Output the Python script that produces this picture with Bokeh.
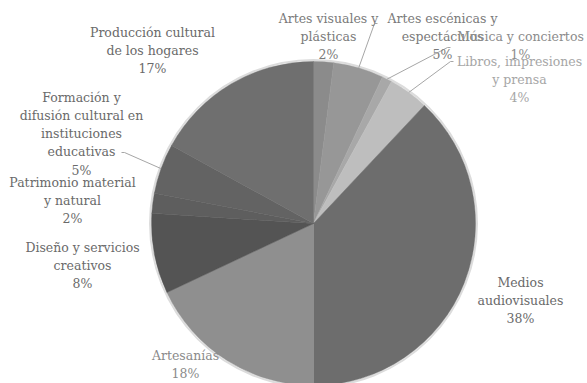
import math
from bokeh.plotting import figure
from bokeh.models import ColumnDataSource, Range1d
from bokeh.core.properties import value
from bokeh.embed import file_html
from bokeh.resources import INLINE

# ---- data ----
categories = [
    "Artes visuales y\nplásticas",
    "Artes escénicas y\nespectáculos",
    "Música y conciertos",
    "Libros, impresiones\ny prensa",
    "Medios\naudiovisuales",
    "Artesanías",
    "Diseño y servicios\ncreativos",
    "Patrimonio material\ny natural",
    "Formación y\ndifusión cultural en\ninstituciones\neducativas",
    "Producción cultural\nde los hogares",
]
shares = [2, 5, 1, 4, 38, 18, 8, 2, 5, 17]

# ---- styling / layout ----
colors = ["#8b8b8b", "#979797", "#a8a8a8", "#bebebe", "#6d6d6d",
          "#8f8f8f", "#545454", "#5e5e5e", "#636363", "#6f6f6f"]
label_colors = ["#7a7a7a", "#7a7a7a", "#8c8c8c", "#a6a6a6", "#6a6a6a",
                "#8a8a8a", "#6a6a6a", "#6a6a6a", "#6a6a6a", "#6a6a6a"]
# label centre x and first-line top y (pixels from top)
label_pos = [(328, 10), (442, 10), (520, 28), (519, 53), (520, 274),
             (185, 347), (82, 239), (72, 174), (81, 89), (152, 24)]
# leader line start points (pixels from top) for labels that have one
leaders = {1: (377, 23), 2: (450, 47), 3: (453, 61), 8: (121, 152)}

W, H = 587, 383
CX, CY, R = 313, 223, 162

p = figure(width=W, height=H, output_backend="svg", toolbar_location=None,
           x_range=Range1d(0, W), y_range=Range1d(0, H), min_border=0)
p.axis.visible = False
p.grid.visible = False
p.outline_line_color = None
p.background_fill_color = "white"

total = sum(shares)
starts, ends, mids = [], [], []
cum = 0
for s in shares:
    a0 = cum / total * 2 * math.pi
    cum += s
    a1 = cum / total * 2 * math.pi
    starts.append(math.pi / 2 - a1)
    ends.append(math.pi / 2 - a0)
    mids.append((a0 + a1) / 2)

# soft edge
p.circle(x=CX, y=H - CY, radius=R + 1.5, fill_color=None,
         line_color="#dcdcdc", line_width=2)

src = ColumnDataSource(dict(start=starts, end=ends, color=colors))
p.wedge(x=CX, y=H - CY, radius=R, start_angle="start", end_angle="end",
        fill_color="color", line_color="color", line_width=0.5, source=src)

# leader lines
for i, (lx, ly) in leaders.items():
    ex = CX + R * math.sin(mids[i])
    ey = CY - R * math.cos(mids[i])
    xs = [lx, lx + (3 if lx < CX else -3), ex]
    ys = [H - ly, H - ly, H - ey]
    p.line(xs, ys, line_color="#a6a6a6", line_width=1)

texts = [f"{c}\n{s}%" for c, s in zip(categories, shares)]
tsrc = ColumnDataSource(dict(
    x=[q[0] for q in label_pos],
    y=[H - q[1] for q in label_pos],
    t=texts, c=label_colors))
p.text(x="x", y="y", text="t", text_color="c", source=tsrc,
       text_font=value("DejaVu Serif"),
       text_font_size="12.5px",
       text_align="center", text_baseline="top", text_line_height=1.22)

open("out.html", "w").write(file_html(p, INLINE))
